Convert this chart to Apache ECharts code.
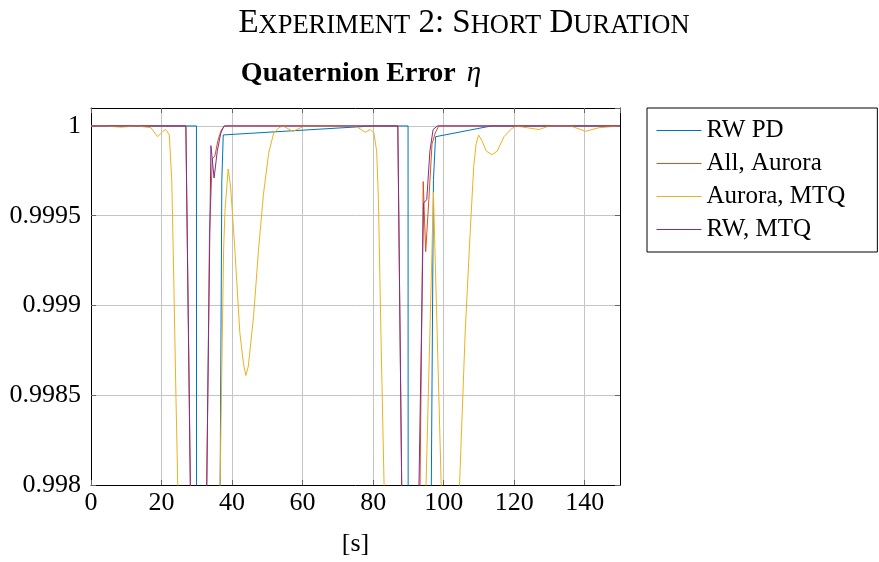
<!DOCTYPE html>
<html>
<head>
  <meta charset="utf-8">
  <title>Experiment 2: Short Duration</title>
  <style>
    html, body { margin: 0; padding: 0; background: #fff; }
    #main { width: 879px; height: 562px; }
  </style>
</head>
<body>
  <div id="main"></div>
  <script src="https://cdn.jsdelivr.net/npm/echarts@6/dist/echarts.min.js"></script>
  <script type="text/javascript">
    const SERIF = "'Liberation Serif', 'DejaVu Serif', serif"

    const seriesNames = ['RW PD', 'All, Aurora', 'Aurora, MTQ', 'RW, MTQ']
    const seriesColors = ['#0072BD', '#D95319', '#EDB120', '#7E2F8E']

    const xTicks = [0, 20, 40, 60, 80, 100, 120, 140]
    const yTickValues = [0.998, 0.9985, 0.999, 0.9995, 1]
    const yTickLabels = ['0.998', '0.9985', '0.999', '0.9995', '1']

    // [time s, eta]; values below 0.998 leave the frame
    const rwPd = [
      [0, 1], [29.9, 1], [30.05, 0.990], [36.5, 0.990], [36.62, 0.998], [37.1, 0.9997],
      [37.5, 0.99995], [80, 1], [89.9, 1], [90.05, 0.990], [96.35, 0.990], [96.5, 0.998],
      [97.1, 0.9997], [97.7, 0.99994], [113.5, 1], [150, 1]
    ]
    const allAurora = [
      [0, 1], [26.9, 1], [28.2, 0.998], [28.4, 0.990], [32.6, 0.990], [32.85, 0.998],
      [33.6, 0.9994], [34.4, 0.99982], [35.1, 0.99983], [36.0, 0.99992], [37.0, 0.99998],
      [38.0, 1], [87, 1], [88.1, 0.998], [88.3, 0.990], [93.0, 0.990], [93.3, 0.998],
      [94.2, 0.99969], [94.9, 0.9993], [95.8, 0.99959], [96.7, 0.9999], [97.6, 0.99996],
      [98.6, 1], [150, 1]
    ]
    const aurMtq = [
      [0, 1], [4, 1], [8.5, 0.999993], [13, 1], [17, 0.99999], [18.9, 0.99994],
      [20.4, 0.99997], [21.2, 0.99998], [22.2, 0.99995], [22.9, 0.9997], [23.4, 0.99922],
      [24.1, 0.99848], [24.6, 0.998], [25.2, 0.990], [36.0, 0.990], [36.6, 0.998],
      [37.6, 0.99931], [38.0, 0.99953], [38.9, 0.99976], [39.6, 0.99966], [40.8, 0.99931],
      [42.2, 0.99885], [43.2, 0.99868], [43.9, 0.99861], [44.6, 0.99866], [46.1, 0.99894],
      [47.5, 0.99931], [48.9, 0.99962], [50.4, 0.99985], [51.8, 0.99996], [53.3, 0.99999],
      [54.4, 1], [57.3, 0.99997], [60.5, 1], [75, 1], [77.8, 0.999965], [79.2, 0.99998],
      [80.2, 0.99996], [81.0, 0.99986], [81.5, 0.99959], [82.2, 0.99885], [83.1, 0.998],
      [83.6, 0.990], [94.4, 0.990], [95.0, 0.998], [97.1, 0.99963], [99.3, 0.998],
      [99.8, 0.990], [104.0, 0.990], [104.5, 0.998], [106.1, 0.99885], [107.5, 0.9994],
      [108.5, 0.99977], [109.2, 0.9999], [109.9, 0.99995], [110.8, 0.99992], [112.1, 0.99986],
      [113.7, 0.99984], [115.2, 0.99986], [117.1, 0.99994], [119, 0.99998], [120.4, 1],
      [123.7, 0.99999], [127, 0.99998], [130, 1], [136, 1], [140.2, 0.99997], [144, 0.99999],
      [150, 1]
    ]
    const rwMtq = [
      [0, 1], [26.9, 1], [28.15, 0.998], [28.4, 0.990], [32.5, 0.990], [32.8, 0.998],
      [34.0, 0.99989], [34.9, 0.99971], [35.8, 0.99986], [36.8, 0.99996], [37.7, 1],
      [87, 1], [88.1, 0.998], [88.3, 0.990], [92.8, 0.990], [93.0, 0.998], [94.3, 0.99957],
      [95.2, 0.99959], [96.1, 0.99986], [97.0, 0.99998], [98.2, 1], [150, 1]
    ]

    const seriesData = [rwPd, allAurora, aurMtq, rwMtq]

    let xLabel = (v) => xTicks.indexOf(Math.round(v)) >= 0 && v < 150 ? String(Math.round(v)) : ''
    let yLabel = (v) => {
      for (let i = 0; i < yTickValues.length; i++) {
        if (Math.abs(yTickValues[i] - v) < 1e-9) {
          return yTickLabels[i]
        }
      }
      return ''
    }

    const gridLine = { show: true, lineStyle: { color: '#c4c4c4', width: 1 } }
    const frameLine = { show: true, onZero: false, lineStyle: { color: '#000', width: 1 } }
    const innerTick = { show: true, inside: true, length: 5, lineStyle: { color: '#666' } }

    const OPTION = {
      animation: false,
      backgroundColor: '#fff',
      title: [{
        text: '{b|E}{s|XPERIMENT} {b|2: S}{s|HORT} {b|D}{s|URATION}',
        left: 459,
        top: 2,
        textAlign: 'center',
        textStyle: {
          fontFamily: SERIF, fontWeight: 'normal', fontSize: 33, color: '#000',
          rich: {
            b: { fontFamily: SERIF, fontSize: 33, color: '#000', verticalAlign: 'bottom' },
            s: { fontFamily: SERIF, fontSize: 26.5, color: '#000', verticalAlign: 'bottom' }
          }
        }
      }, {
        text: 'Quaternion Error {e|η}',
        left: 356,
        top: 54,
        textAlign: 'center',
        textStyle: {
          fontFamily: SERIF, fontWeight: 'bold', fontSize: 28, color: '#000',
          rich: {
            e: { fontFamily: SERIF, fontStyle: 'italic', fontWeight: 'normal', fontSize: 29, color: '#000', padding: [0, 0, 0, 4] }
          }
        }
      }],
      legend: {
        orient: 'vertical',
        left: 647,
        top: 108,
        padding: [10, 32, 10, 9],
        itemGap: 8,
        itemWidth: 45,
        itemHeight: 5,
        borderColor: '#000',
        borderWidth: 1,
        borderRadius: 0,
        backgroundColor: '#fff',
        itemStyle: { opacity: 0 },
        lineStyle: { width: 1 },
        textStyle: { fontFamily: SERIF, fontSize: 25, color: '#000' },
        data: seriesNames
      },
      grid: { left: 91, right: 259, top: 108, bottom: 77, outerBoundsMode: 'none' },
      xAxis: [{
        type: 'value',
        min: 0, max: 150, interval: 20,
        name: '[s]',
        nameLocation: 'middle',
        nameGap: 46,
        nameTextStyle: { fontFamily: SERIF, fontSize: 26, color: '#000' },
        axisLine: frameLine,
        axisTick: innerTick,
        splitLine: gridLine,
        axisLabel: { fontFamily: SERIF, fontSize: 26, color: '#000', margin: 5, showMaxLabel: false, formatter: xLabel }
      }, {
        type: 'value', position: 'top',
        min: 0, max: 150, interval: 20,
        axisLine: frameLine,
        axisTick: innerTick,
        splitLine: { show: false },
        axisLabel: { show: false }
      }],
      yAxis: [{
        type: 'value',
        min: 0.998, max: 1.0001, interval: 0.0005,
        axisLine: frameLine,
        axisTick: innerTick,
        splitLine: gridLine,
        axisLabel: { fontFamily: SERIF, fontSize: 26, color: '#000', margin: 10, showMaxLabel: false, formatter: yLabel }
      }, {
        type: 'value', position: 'right',
        min: 0.998, max: 1.0001, interval: 0.0005,
        axisLine: frameLine,
        axisTick: innerTick,
        splitLine: { show: false },
        axisLabel: { show: false }
      }],
      series: seriesNames.map((name, i) => ({
        name: name,
        type: 'line',
        xAxisIndex: 0,
        yAxisIndex: 0,
        data: seriesData[i],
        symbol: 'none',
        clip: true,
        color: seriesColors[i],
        lineStyle: { width: 1, color: seriesColors[i] }
      }))
    }

    let drawChart = (option) => {
      let element = document.querySelector('#main')
      let chart = echarts.init(element)
      chart.setOption(option)
    }
    drawChart(OPTION)
  </script>
</body>
</html>
